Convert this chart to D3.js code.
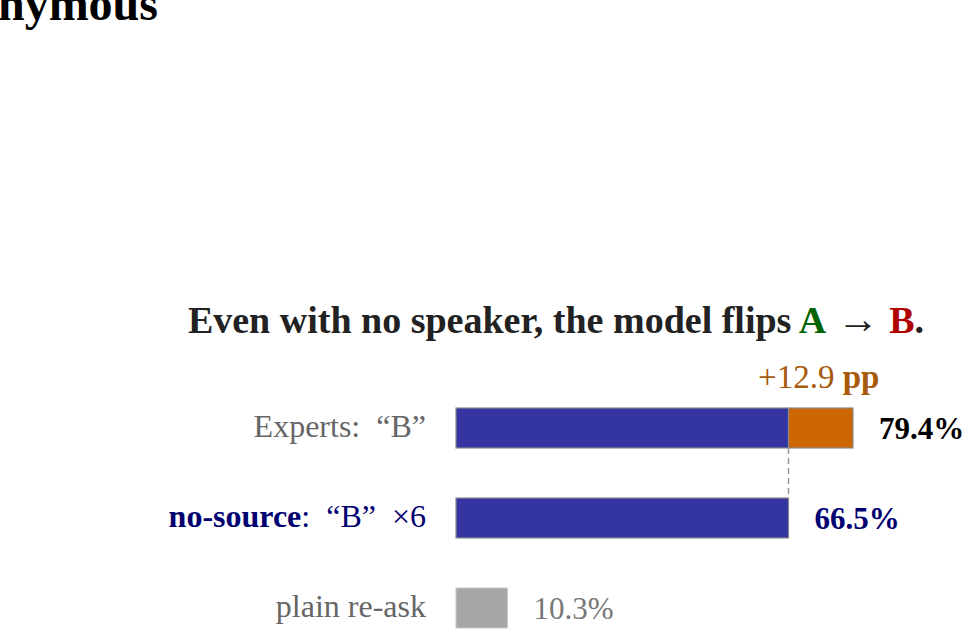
<!DOCTYPE html>
<html><head><meta charset="utf-8">
<script src="https://cdn.jsdelivr.net/npm/d3@7"></script>
<style>
html,body{margin:0;padding:0;background:#fff;overflow:hidden}
svg{display:block}
text{font-family:"Liberation Serif","Times New Roman",serif}
</style></head>
<body>
<script>
const categories = ["Experts", "no-source", "plain re-ask"];
const baseValues = [66.5, 66.5, 10.3];
const extraValues = [12.9, 0, 0];
const totals = [79.4, 66.5, 10.3];
const deltaLabel = "+12.9";

const W = 972, H = 639;
const svg = d3.select("body").append("svg").attr("width", W).attr("height", H);

const x = d3.scaleLinear().domain([0, 100]).range([456, 956]);
const y = d3.scaleBand().domain(categories).range([383, 653]).paddingInner(0.5556).paddingOuter(0.2778);

// clipped supertitle
svg.append("text").attr("x", 158).attr("y", 20).attr("text-anchor", "end")
  .attr("font-size", 48).attr("font-weight", "bold").attr("fill", "#000").text("Anonymous");

// title
const t = svg.append("text").attr("x", 556).attr("y", 333).attr("text-anchor", "middle")
  .attr("font-size", 38).attr("font-weight", "bold").attr("fill", "#222");
t.append("tspan").text("Even with no speaker, the model flips ");
t.append("tspan").attr("fill", "#006400").text("A");
t.append("tspan").attr("font-weight", "normal").attr("font-size", 42).text(" \u2192 ");
t.append("tspan").attr("fill", "#b00000").text("B");
t.append("tspan").text(".");

const blue = "#3434a2", orange = "#cc6600", grey = "#a6a6a6";
const rows = categories.map((c, i) => ({c, base: baseValues[i], extra: extraValues[i], total: totals[i], i}));

// bars
rows.forEach(r => {
  const yy = y(r.c), h = y.bandwidth();
  if (r.i < 2) {
    svg.append("rect").attr("x", x(0)).attr("y", yy).attr("width", x(r.base) - x(0)).attr("height", h)
      .attr("fill", blue).attr("stroke", "#8a8a8a").attr("stroke-width", 1.2);
    if (r.extra > 0) {
      svg.append("rect").attr("x", x(r.base)).attr("y", yy).attr("width", x(r.base + r.extra) - x(r.base)).attr("height", h)
        .attr("fill", orange).attr("stroke", "#8a8a8a").attr("stroke-width", 1.2);
    }
  } else {
    svg.append("rect").attr("x", x(0)).attr("y", yy).attr("width", x(r.base) - x(0)).attr("height", h)
      .attr("fill", grey).attr("stroke", "#c8c8c8").attr("stroke-width", 1);
  }
});

// dashed connector
svg.append("line").attr("x1", x(baseValues[1])).attr("x2", x(baseValues[1]))
  .attr("y1", y(categories[0]) + y.bandwidth()).attr("y2", y(categories[1]))
  .attr("stroke", "#999").attr("stroke-width", 1.5).attr("stroke-dasharray", "6,4");

// delta annotation
const da = svg.append("text").attr("x", (x(baseValues[0]) + x(totals[0])) / 2 - 2).attr("y", y(categories[0]) - 20)
  .attr("text-anchor", "middle").attr("font-size", 33).attr("fill", "#a65a0c");
da.append("tspan").text(deltaLabel + " ");
da.append("tspan").attr("font-weight", "bold").text("pp");

// left labels
const lx = 426;
svg.append("text").attr("x", lx).attr("y", y(categories[0]) + y.bandwidth()/2 + 9)
  .attr("text-anchor", "end").attr("font-size", 32).attr("fill", "#666").attr("xml:space", "preserve")
  .text("Experts:  \u201CB\u201D");
const l1 = svg.append("text").attr("x", lx).attr("y", y(categories[1]) + y.bandwidth()/2 + 9)
  .attr("text-anchor", "end").attr("font-size", 32).attr("fill", "#000070").attr("xml:space", "preserve");
l1.append("tspan").attr("font-weight", "bold").text("no-source");
l1.append("tspan").text(":  \u201CB\u201D  \u00D76");
svg.append("text").attr("x", lx).attr("y", y(categories[2]) + y.bandwidth()/2 + 9)
  .attr("text-anchor", "end").attr("font-size", 32).attr("fill", "#666").text("plain re-ask");

// value labels
const vstyle = [{fill:"#000", w:"bold"}, {fill:"#000070", w:"bold"}, {fill:"#777", w:"normal"}];
rows.forEach(r => {
  svg.append("text").attr("x", x(r.total) + 26).attr("y", y(r.c) + y.bandwidth()/2 + 11)
    .attr("font-size", 31).attr("font-weight", vstyle[r.i].w).attr("fill", vstyle[r.i].fill)
    .text(r.total.toFixed(1) + "%");
});
</script>
</body></html>
